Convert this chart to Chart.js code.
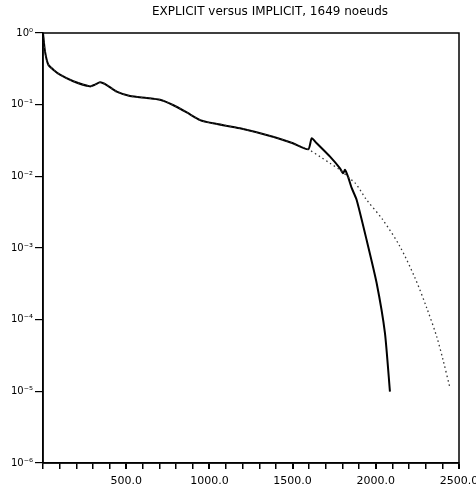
<!DOCTYPE html>
<html>
<head>
<meta charset="utf-8">
<script src="https://cdn.jsdelivr.net/npm/chart.js@4/dist/chart.umd.min.js"></script>
<style>
  html, body { margin: 0; padding: 0; background: #fff; }
  #wrap { width: 476px; height: 491px; }
</style>
</head>
<body>
<div id="wrap"><canvas id="chart" width="476" height="491"></canvas></div>
<script>
// Data
const titleText = 'EXPLICIT versus IMPLICIT, 1649 noeuds';

const explicitX = [0, 12, 32, 62, 102, 182, 282, 312, 343, 383, 443, 523, 623, 703, 781, 864, 944,
  1022, 1184, 1382, 1502, 1594, 1615, 1645, 1725, 1785, 1803, 1815, 1833, 1855, 1885, 1945, 2005, 2055, 2085];
const explicitY = [1.0, 0.555, 0.361, 0.308, 0.262, 0.212, 0.180, 0.190, 0.205, 0.188, 0.152, 0.132, 0.124,
  0.117, 0.099, 0.078, 0.061, 0.055, 0.0468, 0.0357, 0.0289, 0.0238, 0.034, 0.0289, 0.0188, 0.0129, 0.0110,
  0.0123, 0.00988, 0.00688, 0.00468, 0.00129, 0.000325, 0.000065, 0.0000099];

const implicitX = [0, 12, 32, 62, 102, 182, 282, 312, 343, 383, 443, 523, 623, 703, 781, 864, 944,
  1022, 1184, 1382, 1502, 1594, 1605, 1665, 1725, 1785, 1845, 1875, 1905, 1945, 2043, 2145, 2236, 2306,
  2366, 2404, 2446];
const implicitY = [1.0, 0.555, 0.361, 0.308, 0.262, 0.212, 0.180, 0.190, 0.205, 0.188, 0.152, 0.132, 0.124,
  0.117, 0.099, 0.078, 0.061, 0.055, 0.0468, 0.0357, 0.0289, 0.0238, 0.0231, 0.0188, 0.0152, 0.0123,
  0.0093, 0.0081, 0.0065, 0.0047, 0.00246, 0.00105, 0.00038, 0.000146, 0.000058, 0.0000275, 0.0000111];

const yTickValues = [1, 1e-1, 1e-2, 1e-3, 1e-4, 1e-5, 1e-6];
const yTickLabels = ['10\u2070', '10\u207B\u00B9', '10\u207B\u00B2', '10\u207B\u00B3', '10\u207B\u2074', '10\u207B\u2075', '10\u207B\u2076'];
const xMajorTicks = [500, 1000, 1500, 2000, 2500];
const xTickLabels = ['500.0', '1000.0', '1500.0', '2000.0', '2500.0'];

function toPoints(xs, ys) {
  return xs.map((x, i) => ({ x: x, y: ys[i] }));
}

// frame round the plot + title
const framePlugin = {
  id: 'frame',
  afterDraw(chart) {
    const ctx = chart.ctx;
    const a = chart.chartArea;
    ctx.save();
    ctx.strokeStyle = '#000';
    ctx.lineWidth = 1.5;
    ctx.strokeRect(a.left, a.top, a.right - a.left, a.bottom - a.top);
    ctx.fillStyle = '#000';
    ctx.font = '12px "DejaVu Sans"';
    ctx.textAlign = 'center';
    ctx.textBaseline = 'middle';
    ctx.fillText(titleText, (a.left + a.right) / 2 + 19, 12);
    ctx.restore();
  }
};

const ctx = document.getElementById('chart').getContext('2d');
new Chart(ctx, {
  type: 'line',
  data: {
    datasets: [
      {
        label: 'IMPLICIT',
        data: toPoints(implicitX, implicitY),
        borderColor: '#333',
        borderWidth: 1.3,
        borderDash: [1.5, 3],
        pointRadius: 0,
        tension: 0.3,
        fill: false
      },
      {
        label: 'EXPLICIT',
        data: toPoints(explicitX, explicitY),
        borderColor: '#000',
        borderWidth: 2,
        pointRadius: 0,
        tension: 0.2,
        fill: false
      }
    ]
  },
  options: {
    responsive: false,
    animation: false,
    layout: { padding: { top: 33, right: 17, left: 0, bottom: 0 } },
    plugins: {
      legend: { display: false },
      title: { display: false },
      tooltip: { enabled: false }
    },
    scales: {
      x: {
        type: 'linear',
        min: 0,
        max: 2500,
        border: { display: true, color: '#000', width: 1.5 },
        grid: { drawOnChartArea: false, drawTicks: true, tickLength: 6, color: '#000',
          lineWidth: (c) => (xMajorTicks.includes(c.tick && c.tick.value) ? 2 : 1.5) },
        ticks: {
          stepSize: 100,
          autoSkip: false,
          maxRotation: 0,
          padding: 6,
          color: '#000',
          font: { family: 'DejaVu Sans', size: 11 },
          callback: (v) => {
            const i = xMajorTicks.indexOf(v);
            return i >= 0 ? xTickLabels[i] : '';
          }
        },
        afterFit: (scale) => { scale.height = 28; scale.paddingLeft = 0; scale.paddingRight = 0; }
      },
      y: {
        type: 'logarithmic',
        min: 1e-6,
        max: 1,
        border: { display: true, color: '#000', width: 1.5 },
        grid: { drawOnChartArea: false, drawTicks: true, tickLength: 8, color: '#000', lineWidth: 1.2 },
        ticks: {
          autoSkip: false,
          padding: 2,
          color: '#000',
          font: { family: 'DejaVu Sans', size: 10 },
          callback: (v) => {
            const i = yTickValues.findIndex(t => Math.abs(Math.log10(t) - Math.log10(v)) < 1e-6);
            return i >= 0 ? yTickLabels[i] : '';
          }
        },
        afterBuildTicks: (scale) => { scale.ticks = yTickValues.map(v => ({ value: v })); },
        afterFit: (scale) => { scale.width = 43; scale.paddingTop = 0; scale.paddingBottom = 0; }
      }
    }
  },
  plugins: [framePlugin]
});
</script>
</body>
</html>
